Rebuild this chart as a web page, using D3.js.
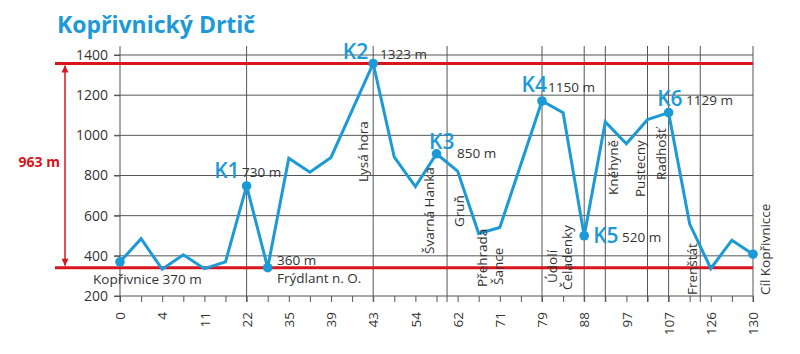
<!DOCTYPE html>
<html>
<head>
<meta charset="utf-8">
<script src="https://cdn.jsdelivr.net/npm/d3@7"></script>
<style>
  html, body { margin: 0; padding: 0; background: #fff; }
  svg { display: block; font-family: "Open Sans", "Noto Sans", sans-serif; }
</style>
</head>
<body>
<svg id="chart" width="800" height="354"></svg>
<script>
// ---- data ----
const title = "Kopřivnický Drtič";
const elevations = [370, 485, 333, 405, 336, 370, 748, 341, 886, 816, 890, 1124, 1358, 891, 745, 908, 822, 511, 541, 856, 1171, 1113, 500, 1067, 958, 1078, 1113, 558, 337, 478, 408];
const xTickLabels = ["0", "4", "11", "22", "35", "39", "43", "54", "62", "71", "79", "88", "97", "107", "126", "130"];
const yTicks = [200, 400, 600, 800, 1000, 1200, 1400];
const gridIndices = [6, 12, 15.5, 20, 22, 23, 25, 26, 27.5, 30];
const markerIndices = [0, 6, 7, 12, 15, 20, 22, 26, 30];
const checkpointNames = ["K1", "K2", "K3", "K4", "K5", "K6"];
const checkpointIndices = [6, 12, 15, 20, 22, 26];
const checkpointAlt = ["730 m", "1323 m", "850 m", "1150 m", "520 m", "1129 m"];
const placeNames = ["Lysá hora", "Švarná Hanka", "Gruň", "Přehrada", "Šance", "Údolí", "Čeladenky", "Kněhyně", "Pustecny", "Radhošť", "Frenštát", "Cíl Kopřivnicce"];
const placeIndices = [12, 15, 16, 17, 18, 20, 22, 23, 25, 26, 27.5, 30];
const climbLabel = "963 m";
const startLabel = "Kopřivnice 370 m";
const lowLabel = "360 m";
const lowPlace = "Frýdlant n. O.";

// ---- layout ----
const BLUE = "#1b9ad7", RED = "#d9141c", GRID = "#555", TXT = "#333";
const svg = d3.select("#chart");
const x = d3.scaleLinear().domain([0, elevations.length - 1]).range([120, 753]);
const y = d3.scaleLinear().domain([200, 1400]).range([296, 55]);
const gridTop = 46, gridBottom = 302;

svg.append("text").attr("x", 57).attr("y", 33)
  .attr("fill", BLUE).attr("font-size", 23).attr("font-weight", 700)
  .text(title);

// horizontal grid
svg.append("g").selectAll("line").data(yTicks.filter(v => v > 200)).join("line")
  .attr("x1", 114).attr("x2", x(30)).attr("y1", d => y(d)).attr("y2", d => y(d))
  .attr("stroke", GRID).attr("stroke-width", 1);

// vertical grid
svg.append("g").selectAll("line").data(gridIndices).join("line")
  .attr("x1", d => x(d)).attr("x2", d => x(d)).attr("y1", gridTop).attr("y2", gridBottom)
  .attr("stroke", GRID).attr("stroke-width", 1);

// y axis
const yAxis = svg.append("g").attr("transform", "translate(120,0)")
  .call(d3.axisLeft(y).tickValues(yTicks).tickFormat(d3.format("d")).tickSize(6).tickPadding(6));
yAxis.select(".domain").remove();
yAxis.append("line").attr("x1", 0).attr("x2", 0).attr("y1", gridTop).attr("y2", gridBottom).attr("stroke", GRID);
yAxis.selectAll(".tick line").attr("stroke", GRID);
yAxis.selectAll("text").attr("font-size", 14).attr("fill", TXT).attr("font-family", "Open Sans");

// x axis
const xAxis = svg.append("g").attr("transform", `translate(0,${y(200)})`)
  .call(d3.axisBottom(x).tickValues(d3.range(elevations.length)).tickSize(6)
    .tickFormat(i => i % 2 === 0 ? xTickLabels[i / 2] : ""));
xAxis.select(".domain").attr("d", `M114,0H${x(30)}`).attr("stroke", GRID);
xAxis.selectAll(".tick line").attr("stroke", GRID);
xAxis.selectAll("text")
  .attr("font-size", 13.5).attr("fill", TXT).attr("font-family", "Open Sans")
  .attr("text-anchor", "end").attr("dy", "0.35em")
  .attr("transform", "translate(0,16) rotate(-90)").attr("x", 0).attr("y", 0);

// red lines
const minVal = 341;
const yHigh = y(d3.max(elevations)), yLow = y(minVal);
[yHigh, yLow].forEach(v => svg.append("line").attr("x1", 55).attr("x2", x(30))
  .attr("y1", v).attr("y2", v).attr("stroke", RED).attr("stroke-width", 3));

// arrow
const defs = svg.append("defs");
defs.append("marker").attr("id", "arr").attr("viewBox", "0 0 10 10")
  .attr("refX", 10).attr("refY", 5).attr("markerWidth", 9).attr("markerHeight", 7)
  .attr("markerUnits", "userSpaceOnUse").attr("orient", "auto-start-reverse")
  .append("path").attr("d", "M0,0L10,5L0,10Z").attr("fill", RED);
svg.append("line").attr("x1", 65).attr("x2", 65).attr("y1", yHigh + 2).attr("y2", yLow - 2)
  .attr("stroke", RED).attr("stroke-width", 1.5)
  .attr("marker-start", "url(#arr)").attr("marker-end", "url(#arr)");
svg.append("text").attr("x", 60).attr("y", 167).attr("text-anchor", "end")
  .attr("fill", RED).attr("font-size", 14).attr("font-weight", 700).text(climbLabel);

// profile line
svg.append("path").datum(elevations)
  .attr("d", d3.line().x((d, i) => x(i)).y(d => y(d)))
  .attr("fill", "none").attr("stroke", BLUE).attr("stroke-width", 3).attr("stroke-linejoin", "miter");

svg.append("g").selectAll("circle").data(markerIndices).join("circle")
  .attr("cx", d => x(d)).attr("cy", d => y(elevations[d])).attr("r", 4.8).attr("fill", BLUE);

// checkpoint labels
const kOff = [[-7, -8], [-5, -4], [18, -5], [5, -9], [9, 7], [14, -7]];
checkpointNames.forEach((n, j) => {
  const i = checkpointIndices[j];
  const px = x(i), py = y(elevations[i]);
  const anchorK = j === 4 ? "start" : "end";
  svg.append("text").attr("x", px + kOff[j][0]).attr("y", py + kOff[j][1])
    .attr("text-anchor", anchorK).attr("fill", BLUE)
    .attr("font-size", 21).attr("font-weight", 600).text(n);
});
const altPos = [[242, 177], [380, 59], [457, 158], [548, 92], [622, 242], [686, 105]];
checkpointAlt.forEach((t, j) => {
  svg.append("text").attr("x", altPos[j][0]).attr("y", altPos[j][1])
    .attr("fill", TXT).attr("font-size", 13.5).text(t);
});

svg.append("text").attr("x", 93).attr("y", 284).attr("fill", TXT).attr("font-size", 13.5).text(startLabel);
svg.append("text").attr("x", 277).attr("y", 265).attr("fill", TXT).attr("font-size", 13.5).text(lowLabel);
svg.append("text").attr("x", 277).attr("y", 283).attr("fill", TXT).attr("font-size", 13.5).text(lowPlace);

// rotated place labels: [pixel offset from x(index), start y]
const placeLayout = [[-5, 182], [-3, 254], [6, 227], [8, 287], [3, 285], [15, 283], [-12, 290], [13, 195], [-3, 197], [-3, 180], [-3, 295], [17, 295]];
placeNames.forEach((n, j) => {
  const px = x(placeIndices[j]) + placeLayout[j][0];
  svg.append("text").attr("transform", `translate(${px},${placeLayout[j][1]}) rotate(-90)`)
    .attr("fill", TXT).attr("font-size", 13.5).text(n);
});
</script>
</body>
</html>
